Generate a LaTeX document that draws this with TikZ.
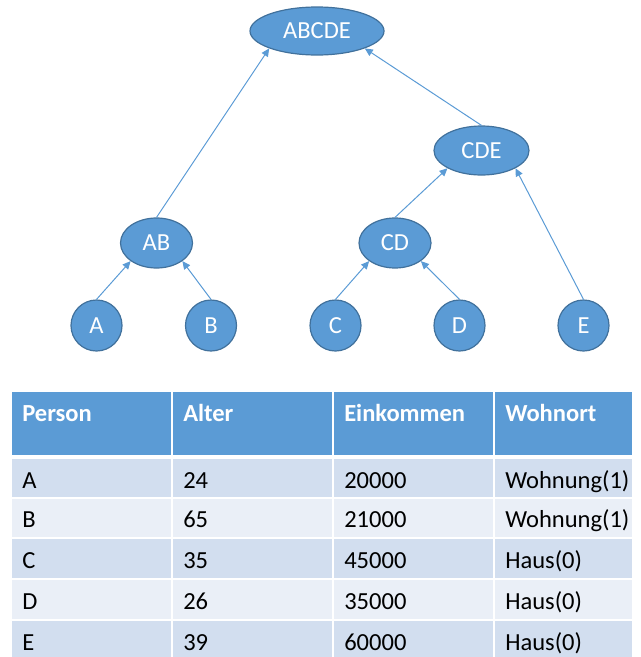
\documentclass[tikz,border=0pt]{standalone}
\usepackage{fontspec}
\setmainfont{Carlito}
\usetikzlibrary{arrows.meta,shapes.geometric}
\definecolor{nodeblue}{HTML}{5B9BD5}
\definecolor{nodeedge}{HTML}{41719C}
\definecolor{rowdark}{HTML}{D2DEEF}
\definecolor{rowlight}{HTML}{EAEFF7}
\begin{document}
\begin{tikzpicture}[x=0.75pt,y=-0.75pt,
  cluster/.style={ellipse,fill=nodeblue,draw=nodeedge,line width=0.9pt,inner sep=0pt,
    text=white,font=\fontsize{18.4}{22}\selectfont},
  leaf/.style={circle,fill=nodeblue,draw=nodeedge,line width=0.9pt,inner sep=0pt,
    minimum size=51*0.75pt,text=white,font=\fontsize{18.4}{22}\selectfont},
  link/.style={draw=nodeblue,line width=0.75pt,-{Triangle[length=6pt,width=5.5pt]}},
  headtxt/.style={anchor=base west,inner sep=0pt,text=white,font=\fontsize{18.4}{22}\selectfont\bfseries},
  celltxt/.style={anchor=base west,inner sep=0pt,text=black,font=\fontsize{18.4}{22}\selectfont},
  gridline/.style={draw=white,line width=1.5pt}]
\useasboundingbox (0,0) rectangle (641,657);

% tree of clusters
\node[cluster,minimum width=134*0.75pt,minimum height=48*0.75pt] (ABCDE) at (317,31) {ABCDE};
\node[cluster,minimum width=95*0.75pt,minimum height=49*0.75pt] (CDE) at (481.5,150.5) {CDE};
\node[cluster,minimum width=72*0.75pt,minimum height=50*0.75pt] (AB) at (156.5,243) {AB};
\node[cluster,minimum width=72*0.75pt,minimum height=50*0.75pt] (CD) at (395,243) {CD};
\node[leaf] (A) at (96.5,325.5) {A};
\node[leaf] (B) at (211,325.5) {B};
\node[leaf] (C) at (335.5,325.5) {C};
\node[leaf] (D) at (459.5,325.5) {D};
\node[leaf] (E) at (583.5,325.5) {E};

\draw[link] (A.north) -- (AB.south west);
\draw[link] (B.north) -- (AB.south east);
\draw[link] (C.north) -- (CD.south west);
\draw[link] (D.north) -- (CD.south east);
\draw[link] (CD.north) -- (CDE.south west);
\draw[link] (E.north) -- (CDE.south east);
\draw[link] (AB.north) -- (ABCDE.south west);
\draw[link] (CDE.north) -- (ABCDE.south east);

% table background
\fill[nodeblue] (12,392) rectangle (632,457);
\fill[rowdark] (12,457) rectangle (632,497.5);
\fill[rowlight] (12,497.5) rectangle (632,538);
\fill[rowdark] (12,538) rectangle (632,579);
\fill[rowlight] (12,579) rectangle (632,620);
\fill[rowdark] (12,620) rectangle (632,661);
% cell borders
\draw[gridline,line width=2.5pt] (12,457) -- (632,457);
\foreach \yy in {497.5,538,579,620} \draw[gridline] (12,\yy) -- (632,\yy);
\foreach \xx in {172,333,494} \draw[gridline] (\xx,392) -- (\xx,661);

% header
\node[headtxt] (hP) at (22,421) {Person};
\node[headtxt] (hA) at (183,421) {Alter};
\node[headtxt] (hE) at (344,421) {Einkommen};
\node[headtxt] (hW) at (505,421) {Wohnort};

% rows
\foreach \name/\age/\inc/\home/\base in {
  A/24/20000/Wohnung(1)/488,
  B/65/21000/Wohnung(1)/527,
  C/35/45000/Haus(0)/568,
  D/26/35000/Haus(0)/609,
  E/39/60000/Haus(0)/650}{
  \node[celltxt] (p\name) at (22,\base) {\name};
  \node[celltxt] (a\name) at (183,\base) {\age};
  \node[celltxt] (i\name) at (344,\base) {\inc};
  \node[celltxt] (w\name) at (505,\base) {\home};
}
\end{tikzpicture}
\end{document}
